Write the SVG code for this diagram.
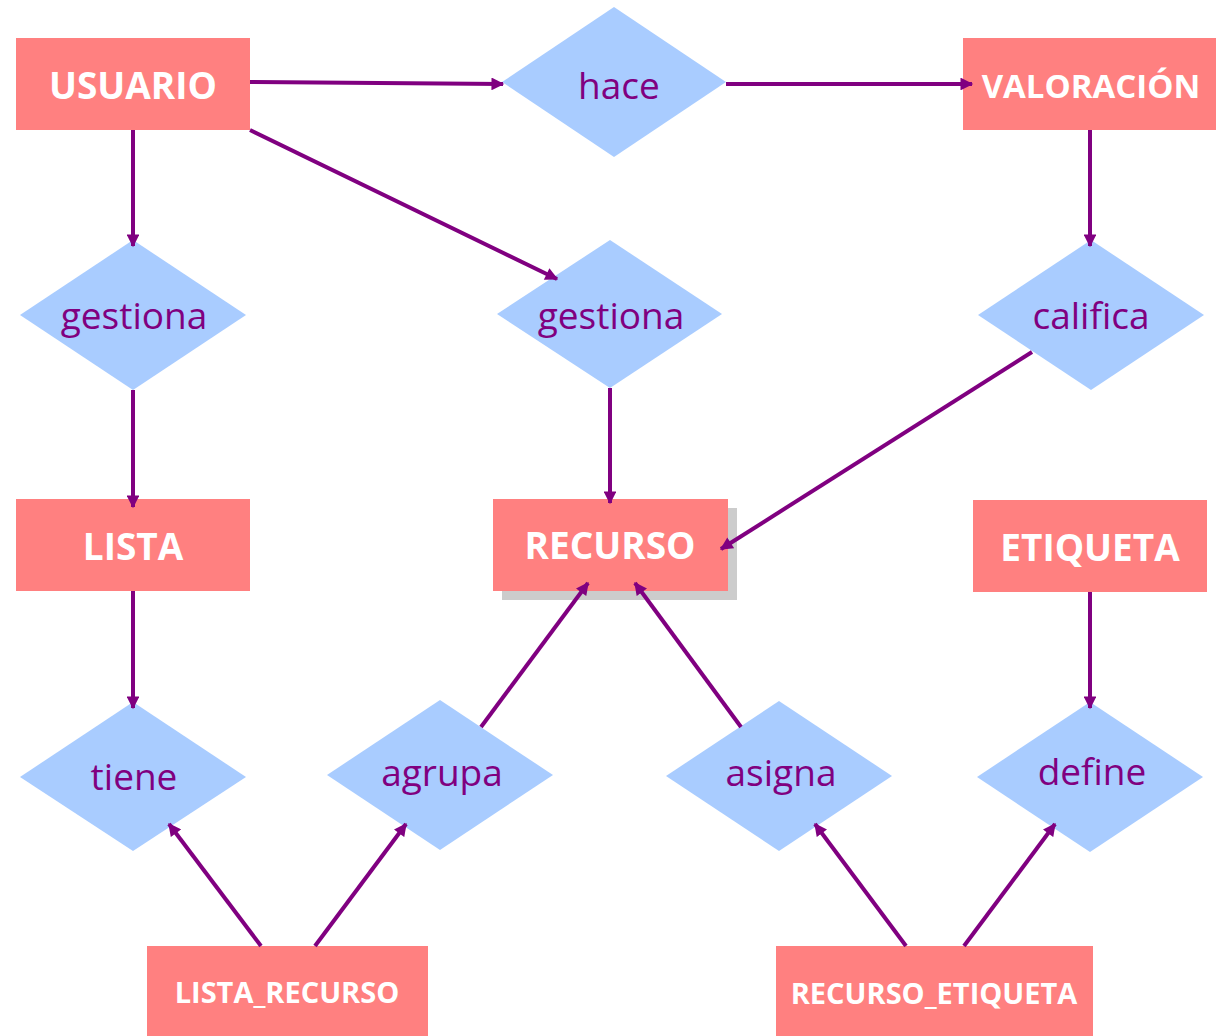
<svg xmlns="http://www.w3.org/2000/svg" width="1225" height="1036" viewBox="0 0 1225 1036">
<defs>
<marker id="ah" viewBox="0 0 10 10" refX="9" refY="5" markerWidth="3.4" markerHeight="3.2" orient="auto" markerUnits="strokeWidth">
<path d="M0,0 L10,5 L0,10 z" fill="#800080"/>
</marker>
</defs>
<style>
.ent{fill:#FF8080}
.shadow{fill:#CCCCCC}
.rel{fill:#A9CCFF}
.et{font-family:"Open Sans","Liberation Sans",sans-serif;font-weight:bold;fill:#fff;font-size:37px;text-anchor:middle;dominant-baseline:central}
.es{font-size:29px}
.rt{font-family:"Open Sans","Liberation Sans",sans-serif;fill:#800080;font-size:37px;text-anchor:middle;dominant-baseline:central}
.c{stroke:#800080;stroke-width:4;fill:none;marker-end:url(#ah)}
</style>
<rect width="1225" height="1036" fill="#fff"/>
<g id="usuario"><rect class="ent" x="16" y="38" width="234" height="92"/><text class="et" x="133" y="84">USUARIO</text></g>
<g id="valoracion"><rect class="ent" x="963" y="38" width="253" height="92"/><text class="et" x="1091" y="85" style="font-size:33px">VALORACIÓN</text></g>
<g id="lista"><rect class="ent" x="16" y="499" width="234" height="92"/><text class="et" x="133" y="545">LISTA</text></g>
<g id="recurso"><rect class="shadow" x="502" y="508" width="235" height="92"/><rect class="ent" x="493" y="499" width="235" height="92"/><text class="et" x="610" y="544">RECURSO</text></g>
<g id="etiqueta"><rect class="ent" x="973" y="500" width="234" height="92"/><text class="et" x="1090" y="546">ETIQUETA</text></g>
<g id="lista_recurso"><rect class="ent" x="147" y="946" width="281" height="92"/><text class="et es" x="287" y="991">LISTA_RECURSO</text></g>
<g id="recurso_etiqueta"><rect class="ent" x="776" y="946" width="317" height="92"/><text class="et es" x="934" y="992">RECURSO_ETIQUETA</text></g>
<g id="hace"><polygon class="rel" points="614,7 726,82 614,157 502,82"/><text class="rt" x="619" y="84">hace</text></g>
<g id="gestiona1"><polygon class="rel" points="133,240 246,315 133,390 20,315"/><text class="rt" x="134" y="314">gestiona</text></g>
<g id="gestiona2"><polygon class="rel" points="610,240 722,314 610,388 497,314"/><text class="rt" x="611" y="314">gestiona</text></g>
<g id="califica"><polygon class="rel" points="1091,240 1204,315 1091,390 978,315"/><text class="rt" x="1091" y="314">califica</text></g>
<g id="tiene"><polygon class="rel" points="133,702 246,777 133,851 20,777"/><text class="rt" x="134" y="775">tiene</text></g>
<g id="agrupa"><polygon class="rel" points="440,700 553,775 440,850 327,775"/><text class="rt" x="442" y="771">agrupa</text></g>
<g id="asigna"><polygon class="rel" points="779,701 892,776 779,851 666,776"/><text class="rt" x="781" y="771">asigna</text></g>
<g id="define"><polygon class="rel" points="1090,702 1203,777 1090,852 977,777"/><text class="rt" x="1092" y="770">define</text></g>
<g id="connectors">
<line class="c" x1="250" y1="82" x2="503" y2="84"/>
<line class="c" x1="726" y1="84" x2="972" y2="84"/>
<line class="c" x1="133" y1="130" x2="133" y2="246"/>
<line class="c" x1="250" y1="130" x2="557" y2="279"/>
<line class="c" x1="1090" y1="130" x2="1090" y2="246"/>
<line class="c" x1="133" y1="390" x2="133" y2="507"/>
<line class="c" x1="610" y1="388" x2="610" y2="503"/>
<line class="c" x1="1032" y1="352" x2="721" y2="549"/>
<line class="c" x1="133" y1="591" x2="133" y2="708"/>
<line class="c" x1="1090" y1="592" x2="1090" y2="708"/>
<line class="c" x1="481" y1="727" x2="588" y2="583"/>
<line class="c" x1="741" y1="727" x2="635" y2="583"/>
<line class="c" x1="261" y1="946" x2="169" y2="824"/>
<line class="c" x1="315" y1="946" x2="406" y2="824"/>
<line class="c" x1="906" y1="946" x2="815" y2="824"/>
<line class="c" x1="964" y1="946" x2="1055" y2="824"/>
</g>
</svg>
